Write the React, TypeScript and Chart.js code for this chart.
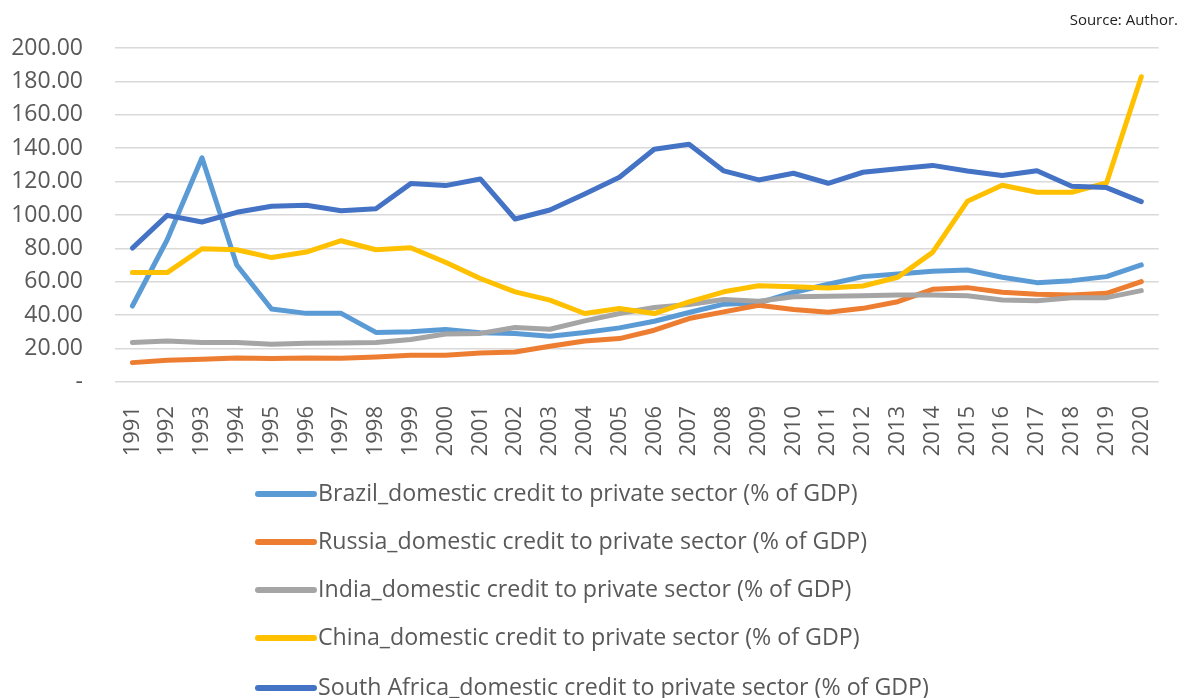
import React, { useEffect, useRef } from "react";
import { Chart, registerables } from "chart.js";

Chart.register(...registerables);

const years = ["1991","1992","1993","1994","1995","1996","1997","1998","1999","2000","2001","2002","2003","2004","2005","2006","2007","2008","2009","2010","2011","2012","2013","2014","2015","2016","2017","2018","2019","2020"];

const brazil = [45.5, 85.2, 134.3, 70.1, 43.7, 41.1, 41.1, 29.7, 30.1, 31.5, 29.5, 29.0, 27.4, 29.6, 32.4, 36.4, 41.6, 46.6, 47.4, 53.6, 58.5, 63.1, 64.7, 66.3, 67.1, 62.7, 59.5, 60.7, 63.1, 70.1];
const russia = [11.6, 13.0, 13.6, 14.4, 14.0, 14.4, 14.2, 15.0, 16.0, 16.0, 17.4, 18.0, 21.4, 24.6, 26.0, 31.0, 38.0, 42.0, 46.0, 43.4, 41.8, 44.1, 48.1, 55.5, 56.5, 53.7, 52.5, 52.1, 53.1, 60.1];
const india = [23.6, 24.6, 23.6, 23.6, 22.6, 23.2, 23.4, 23.6, 25.4, 28.7, 29.1, 32.6, 31.6, 36.6, 41.0, 44.6, 46.4, 49.4, 48.4, 51.0, 51.4, 51.7, 52.1, 52.1, 51.7, 49.1, 48.7, 50.5, 50.5, 54.7];
const china = [65.5, 65.5, 79.8, 79.2, 74.5, 77.8, 84.6, 79.2, 80.4, 71.7, 62.0, 54.0, 49.0, 41.0, 44.0, 41.0, 48.0, 54.0, 57.6, 57.0, 56.3, 57.5, 62.7, 77.6, 108.2, 117.8, 113.6, 113.6, 119.2, 182.8];
const southAfrica = [80.2, 99.8, 95.8, 101.6, 105.2, 105.8, 102.6, 103.8, 118.8, 117.6, 121.6, 97.6, 103.0, 112.6, 122.6, 139.4, 142.4, 126.4, 121.0, 125.0, 119.0, 125.6, 127.7, 129.7, 126.3, 123.6, 126.5, 117.2, 116.4, 108.0];

const seriesLabels = [
  "Brazil_domestic credit to private sector (% of GDP)",
  "Russia_domestic credit to private sector (% of GDP)",
  "India_domestic credit to private sector (% of GDP)",
  "China_domestic credit to private sector (% of GDP)",
  "South Africa_domestic credit to private sector (% of GDP)",
];
const seriesColors = ["#5B9BD5", "#ED7D31", "#A5A5A5", "#FFC000", "#4472C4"];
const sourceText = "Source: Author.";

const FONT = "'Open Sans', 'Noto Sans', sans-serif";

const legendPlugin = {
  id: "customLegend",
  afterDraw(chart: any) {
    const ctx = chart.ctx;
    ctx.save();
    const ds = chart.data.datasets;
    const rowY = [494, 542, 590, 638, 688];
    for (let i = 0; i < ds.length; i++) {
      const y = rowY[i];
      ctx.strokeStyle = ds[i].borderColor;
      ctx.lineWidth = 6;
      ctx.lineCap = "round";
      ctx.beginPath();
      ctx.moveTo(258, y);
      ctx.lineTo(314, y);
      ctx.stroke();
      ctx.fillStyle = "#595959";
      ctx.font = `23.2px ${FONT}`;
      ctx.textAlign = "left";
      ctx.textBaseline = "middle";
      ctx.fillText(ds[i].label, 318, y);
    }
    ctx.fillStyle = "#222222";
    ctx.font = `15px ${FONT}`;
    ctx.textAlign = "right";
    ctx.textBaseline = "middle";
    ctx.fillText(sourceText, 1178, 21);
    ctx.restore();
  },
};

export default function App() {
  const ref = useRef<HTMLCanvasElement>(null);
  useEffect(() => {
    if (!ref.current) return;
    const allSeries = [brazil, russia, india, china, southAfrica];
    const chart = new Chart(ref.current, {
      type: "line",
      data: {
        labels: years,
        datasets: allSeries.map((d, i) => ({
          label: seriesLabels[i],
          data: d,
          borderColor: seriesColors[i],
          backgroundColor: seriesColors[i],
          borderWidth: 5,
          pointRadius: 0,
          tension: 0,
          borderCapStyle: "round",
          borderJoinStyle: "round",
          order: allSeries.length - i,
        })),
      },
      options: {
        animation: false,
        responsive: true,
        maintainAspectRatio: false,
        layout: { padding: { top: 48, right: 17, left: 0, bottom: 0 } },
        plugins: {
          legend: { display: false },
          tooltip: { enabled: false },
          title: { display: false },
        },
        scales: {
          x: {
            offset: true,
            grid: { display: false },
            border: { display: false },
            ticks: {
              minRotation: 90,
              maxRotation: 90,
              autoSkip: false,
              padding: 16,
              color: "#595959",
              font: { family: FONT, size: 22 },
            },
            afterFit: (s: any) => {
              s.height = 316;
            },
          },
          y: {
            min: 0,
            max: 200,
            grid: { color: "#D9D9D9", lineWidth: 1.5, drawTicks: false },
            border: { display: false },
            ticks: {
              stepSize: 20,
              padding: 32,
              color: "#595959",
              font: { family: FONT, size: 23 },
              callback: (v: any) => (Number(v) === 0 ? "-" : Number(v).toFixed(2)),
            },
            afterFit: (s: any) => {
              s.width = 115;
            },
          },
        },
      },
      plugins: [legendPlugin],
    });
    return () => chart.destroy();
  }, []);
  return (
    <div style={{ position: "fixed", left: 0, top: 0, width: 1184, height: 698, background: "#fff" }}>
      <canvas ref={ref} />
    </div>
  );
}
